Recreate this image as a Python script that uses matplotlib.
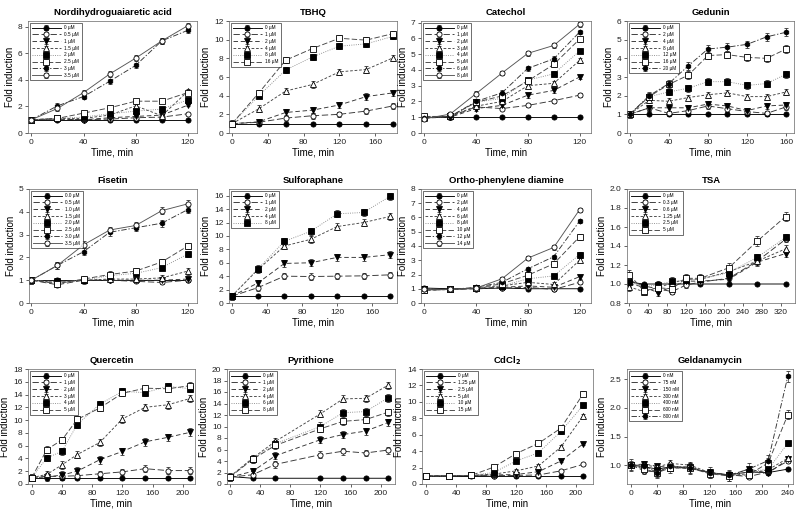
import matplotlib
matplotlib.use("Agg")
import matplotlib.pyplot as plt

plt.rcParams['font.family'] = ['Liberation Sans', 'DejaVu Sans']

# ---------------- data ----------------
ndga_t = [0, 20, 40, 60, 80, 100, 120]
ndga_lab = ['0 µM', '0.5 µM', '1 µM', '1.5 µM', '2 µM', '2.5 µM', '3 µM', '3.5 µM']
ndga_y = [[1, 1, 1, 1, 1, 1, 1],
          [1, 1.05, 1.0, 1.05, 1.15, 1.2, 1.45],
          [1, 1.05, 1.0, 1.15, 1.25, 1.35, 2.1],
          [1, 1.1, 1.1, 1.35, 2.05, 1.3, 3.15],
          [1, 1.1, 1.2, 1.45, 1.65, 1.8, 2.5],
          [1, 1.1, 1.5, 1.9, 2.4, 2.4, 3.05],
          [1, 2.05, 2.75, 3.9, 5.1, 6.95, 7.75],
          [1, 1.85, 3.05, 4.45, 5.65, 6.95, 8.1]]
ndga_e = [0.02, 0.05, 0.08, 0.15, 0.12, 0.1, 0.2, 0.2]

tbhq_t = [0, 30, 60, 90, 120, 150, 180]
tbhq_lab = ['0 µM', '1 µM', '2 µM', '4 µM', '8 µM', '16 µM']
tbhq_y = [[1, 1, 1, 1, 1, 1, 1],
          [1, 1.15, 1.6, 1.85, 2.0, 2.35, 2.9],
          [1, 1.2, 2.2, 2.45, 3.0, 3.9, 4.3],
          [1, 2.6, 4.5, 5.2, 6.55, 6.8, 8.05],
          [1, 4.0, 6.75, 8.15, 9.3, 9.55, 10.35],
          [1, 4.3, 7.8, 9.05, 10.15, 9.95, 10.65]]
tbhq_e = [0.05, 0.3, 0.35, 0.35, 0.3, 0.3]

cat_t = [0, 20, 40, 60, 80, 100, 120]
cat_lab = ['0 µM', '1 µM', '2 µM', '3 µM', '4 µM', '5 µM', '6 µM', '8 µM']
cat_y = [[1, 1, 1, 1, 1, 1, 1],
         [1.05, 1.05, 1.65, 1.55, 1.75, 2.05, 2.4],
         [0.95, 1.0, 1.55, 1.75, 2.4, 2.7, 3.55],
         [0.95, 1.05, 1.7, 2.0, 3.0, 3.15, 4.6],
         [1.0, 1.05, 1.95, 2.2, 3.35, 3.75, 5.2],
         [1.05, 1.05, 1.95, 2.35, 3.3, 4.35, 5.95],
         [0.95, 1.05, 2.0, 2.55, 4.1, 4.7, 6.4],
         [0.9, 1.2, 2.5, 3.8, 5.05, 5.55, 6.9]]
cat_e = [0.02, 0.12, 0.15, 0.15, 0.15, 0.15, 0.15, 0.15]

ged_t = [0, 20, 40, 60, 80, 100, 120, 140, 160]
ged_lab = ['0 µM', '2 µM', '4 µM', '8 µM', '12 µM', '16 µM', '20 µM']
ged_y = [[1, 1, 1, 1, 1, 1, 1, 1, 1],
         [1, 1.35, 1.05, 1.2, 1.45, 1.3, 1.15, 1.05, 1.4],
         [1, 1.35, 1.35, 1.35, 1.55, 1.45, 1.2, 1.45, 1.5],
         [1, 1.75, 1.7, 1.9, 2.05, 2.15, 1.95, 1.95, 2.2],
         [1, 1.95, 2.2, 2.4, 2.75, 2.75, 2.55, 2.65, 3.15],
         [1, 1.95, 2.6, 3.1, 4.15, 4.2, 4.05, 4.0, 4.5],
         [1, 2.0, 2.65, 3.6, 4.5, 4.6, 4.75, 5.15, 5.4]]
ged_e = [0.02, 0.15, 0.15, 0.15, 0.18, 0.2, 0.2]

fis_t = [0, 20, 40, 60, 80, 100, 120]
fis_lab = ['0.0 µM', '0.5 µM', '1.0 µM', '1.5 µM', '2.0 µM', '2.5 µM', '3.0 µM', '3.5 µM']
fis_y = [[1.0, 1.0, 1.0, 1.0, 1.0, 1.0, 1.0],
         [1.0, 0.8, 1.0, 1.0, 0.95, 0.9, 1.0],
         [1.0, 0.95, 1.0, 1.0, 1.0, 1.0, 1.05],
         [1.0, 0.9, 1.0, 1.05, 1.05, 1.1, 1.4],
         [1.0, 0.9, 1.0, 1.2, 1.3, 1.55, 2.15],
         [1.0, 0.85, 1.05, 1.25, 1.4, 1.8, 2.5],
         [1.0, 1.65, 2.25, 3.1, 3.3, 3.5, 4.1],
         [1.0, 1.65, 2.55, 3.2, 3.4, 4.05, 4.35]]
fis_e = [0.02, 0.08, 0.08, 0.15, 0.12, 0.15, 0.15, 0.15]

sul_t = [0, 30, 60, 90, 120, 150, 180]
sul_lab = ['0 µM', '1 µM', '2 µM', '4 µM', '8 µM']
sul_y = [[1, 1, 1, 1, 1, 1, 1],
         [1, 2.3, 4.0, 3.95, 4.0, 4.05, 4.2],
         [1, 3.0, 5.9, 6.0, 6.8, 6.8, 7.2],
         [1, 5.0, 8.5, 9.5, 11.4, 12.0, 12.9],
         [1, 5.1, 9.2, 10.7, 13.3, 13.5, 15.9]]
sul_e = [0.05, 0.45, 0.5, 0.5, 0.5]

opd_t = [0, 20, 40, 60, 80, 100, 120]
opd_lab = ['0 µM', '2 µM', '4 µM', '6 µM', '8 µM', '10 µM', '12 µM', '14 µM']
opd_y = [[1.05, 1, 1, 1.05, 1, 1, 1],
         [0.9, 0.95, 1.0, 1.05, 1.1, 0.95, 1.45],
         [0.95, 0.95, 1.05, 1.1, 1.2, 1.1, 1.85],
         [0.9, 0.95, 1.05, 1.2, 1.45, 1.3, 3.0],
         [0.95, 0.95, 1.05, 1.2, 1.7, 1.9, 3.4],
         [0.9, 0.95, 1.05, 1.35, 1.95, 2.75, 4.65],
         [1.0, 0.95, 1.1, 1.45, 2.4, 3.25, 5.75],
         [0.95, 0.95, 1.05, 1.7, 3.15, 3.9, 6.55]]
opd_e = [0.02, 0.1, 0.15, 0.15, 0.15, 0.2, 0.15, 0.15]

tsa_t = [0, 30, 60, 90, 120, 150, 210, 270, 330]
tsa_lab = ['0 µM', '0.3 µM', '0.6 µM', '1.25 µM', '2.5 µM', '5 µM']
tsa_y = [[1.02, 1.0, 1.0, 1.0, 1.0, 1.0, 1.0, 1.0, 1.0],
         [1.04, 0.98, 0.95, 0.92, 0.99, 1.02, 1.06, 1.24, 1.47],
         [1.0, 0.97, 0.91, 0.97, 1.03, 1.03, 1.05, 1.23, 1.32],
         [0.97, 0.92, 0.96, 1.01, 1.05, 1.05, 1.13, 1.24, 1.37],
         [1.02, 0.97, 0.99, 1.03, 1.04, 1.05, 1.12, 1.28, 1.49],
         [1.1, 0.93, 0.96, 0.95, 1.06, 1.06, 1.17, 1.45, 1.71]]
tsa_e = [0.005, 0.03, 0.04, 0.04, 0.04, 0.05]

que_t = [0, 20, 40, 60, 90, 120, 150, 180, 210]
que_lab = ['0 µM', '1 µM', '2 µM', '3 µM', '4 µM', '5 µM']
que_y = [[1, 1, 1, 1, 1, 1, 1, 1, 1],
         [1, 1.2, 1.2, 1.3, 1.6, 1.9, 2.4, 2.1, 2.1],
         [1, 1.1, 1.4, 2.0, 3.8, 5.1, 6.6, 7.3, 8.1],
         [1, 1.5, 3.0, 4.6, 6.5, 10.2, 12.0, 12.4, 13.4],
         [1, 4.1, 5.1, 9.3, 12.5, 14.5, 14.3, 15.3, 14.9],
         [1, 5.4, 6.9, 10.1, 11.9, 14.2, 15.0, 14.9, 15.4]]
que_e = [0.05, 0.5, 0.6, 0.6, 0.5, 0.5]

pyr_t = [0, 30, 60, 120, 150, 180, 210]
pyr_lab = ['0 µM', '1 µM', '2 µM', '4 µM', '6 µM', '8 µM']
pyr_y = [[1.3, 1, 1, 1, 1, 1, 1],
         [1.2, 1.6, 3.4, 5.1, 5.7, 5.4, 5.9],
         [1.2, 2.2, 4.9, 7.7, 8.6, 9.2, 10.7],
         [1.3, 4.5, 7.4, 12.2, 14.8, 14.9, 17.2],
         [1.3, 4.4, 7.0, 10.0, 12.4, 12.6, 15.0],
         [1.2, 4.3, 6.7, 9.6, 10.9, 11.2, 12.5]]
pyr_e = [0.05, 0.6, 0.6, 0.6, 0.7, 0.6]

cd_t = [0, 30, 60, 90, 120, 150, 180, 210]
cd_lab = ['0 µM', '1.25 µM', '2.5 µM', '5 µM', '10 µM', '15 µM']
cd_y = [[1, 1, 1, 1, 1, 1, 1, 1],
        [1, 1, 1.05, 1.0, 1.05, 1.1, 1.6, 2.4],
        [1, 1, 1.05, 1.1, 1.15, 1.5, 2.8, 4.9],
        [1, 1, 1.05, 1.2, 1.6, 2.2, 4.5, 8.3],
        [1, 1, 1.05, 1.4, 2.8, 3.8, 6.4, 9.6],
        [1, 1, 1.05, 2.05, 3.7, 4.95, 6.8, 11.0]]
cd_e = [0.02, 0.1, 0.15, 0.2, 0.3, 0.3]

gel_t = [0, 20, 40, 60, 90, 120, 150, 180, 210, 240]
gel_lab = ['0 nM', '75 nM', '150 nM', '300 nM', '400 nM', '600 nM', '800 nM']
gel_y = [[1.0, 0.97, 0.93, 0.97, 0.95, 0.87, 0.83, 0.88, 0.87, 0.93],
         [1.0, 0.9, 0.88, 0.97, 0.97, 0.86, 0.83, 0.80, 0.88, 1.07],
         [1.0, 1.02, 0.98, 0.96, 0.94, 0.88, 0.82, 0.93, 0.86, 1.10],
         [1.0, 1.0, 0.97, 1.03, 1.0, 0.87, 0.82, 0.85, 0.92, 1.12],
         [1.0, 0.96, 0.92, 0.95, 0.96, 0.86, 0.82, 0.88, 0.93, 1.38],
         [1.0, 0.93, 0.87, 0.95, 0.95, 0.85, 0.81, 0.83, 1.04, 1.88],
         [1.0, 0.98, 0.87, 0.99, 0.95, 0.87, 0.82, 0.93, 1.08, 2.55]]
gel_e = [0.02, 0.03, 0.03, 0.03, 0.04, 0.08, 0.1]

# ---------------- styles ----------------
STY = [
    dict(marker='o', mfc='black', ls='-', color='black'),
    dict(marker='o', mfc='white', ls=(0, (7, 3)), color='#333333'),
    dict(marker='v', mfc='black', ls=(0, (5, 3)), color='#333333'),
    dict(marker='^', mfc='white', ls=(0, (3, 2)), color='#444444'),
    dict(marker='s', mfc='black', ls=(0, (1, 1.5)), color='#888888'),
    dict(marker='s', mfc='white', ls=(0, (6, 2.5)), color='#444444'),
    dict(marker='h', mfc='black', ls=(0, (6, 2, 1.5, 2)), color='#333333'),
    dict(marker='o', mfc='white', ls='-', color='#555555'),
]

W, H = 800, 517
fig = plt.figure(figsize=(W / 100, H / 100), dpi=100)


def px_axes(l, r, t, b):
    return fig.add_axes([l / W, 1 - b / H, (r - l) / W, (b - t) / H])


def panel(box, title, t, ys, labels, errs, xlim, ylim, xticks, yticks, yfmt=None):
    ax = px_axes(*box)
    for i, (y, lab) in enumerate(zip(ys, labels)):
        s = STY[i]
        ax.errorbar(t, y, yerr=[errs[i]] * len(y), marker=s['marker'],
                    mfc=s['mfc'], mec='black', ms=3.7, mew=0.6,
                    ls=s['ls'], color=s['color'], lw=0.65, ecolor='#333333',
                    elinewidth=0.5, capsize=1.5, capthick=0.5, label=lab)
    ax.set_xlim(*xlim)
    ax.set_ylim(*ylim)
    ax.set_xticks(xticks)
    ax.set_yticks(yticks)
    if yfmt:
        ax.set_yticklabels([yfmt.format(v) for v in yticks])
    ax.tick_params(labelsize=6, length=2.5, width=0.5, pad=1.5, colors='#222222')
    for sp in ax.spines.values():
        sp.set_linewidth(0.5)
        sp.set_color('#666666')
    ax.set_title(title, fontsize=6.8, fontweight='bold', pad=4)
    ax.set_xlabel('Time, min', fontsize=7, labelpad=1.5)
    ax.set_ylabel('Fold induction', fontsize=7, labelpad=2)
    leg = ax.legend(loc='upper left', fontsize=3.4, handlelength=6, handletextpad=0.8,
                    borderpad=0.5, labelspacing=0.38, frameon=True, fancybox=False,
                    borderaxespad=0.4)
    leg.get_frame().set_edgecolor('black')
    leg.get_frame().set_linewidth(0.5)
    return ax


r1 = (21, 133)
r2 = (189, 303)
r3 = (369, 484)

panel((28, 197) + r1, 'Nordihydroguaiaretic acid', ndga_t, ndga_y, ndga_lab, ndga_e,
      (-2.6, 127), (0, 8.45), [0, 40, 80, 120], [0, 2, 4, 6, 8])
panel((229, 397) + r1, 'TBHQ', tbhq_t, tbhq_y, tbhq_lab, tbhq_e,
      (-3.4, 184.5), (0, 12), [0, 40, 80, 120, 160], [0, 2, 4, 6, 8, 10, 12])
panel((421, 591) + r1, 'Catechol', cat_t, cat_y, cat_lab, cat_e,
      (-2.6, 128.8), (0, 7.1), [0, 40, 80, 120], [0, 1, 2, 3, 4, 5, 6, 7])
panel((627, 794) + r1, 'Gedunin', ged_t, ged_y, ged_lab, ged_e,
      (-2.7, 168), (0, 6), [0, 40, 80, 120, 160], [0, 1, 2, 3, 4, 5, 6])

panel((29, 197) + r2, 'Fisetin', fis_t, fis_y, fis_lab, fis_e,
      (-1.8, 127), (0, 5), [0, 40, 80, 120], [0, 1, 2, 3, 4, 5])
panel((229, 397) + r2, 'Sulforaphane', sul_t, sul_y, sul_lab, sul_e,
      (-3, 188), (0, 17), [0, 40, 80, 120, 160], [0, 2, 4, 6, 8, 10, 12, 14, 16])
panel((421, 591) + r2, 'Ortho-phenylene diamine', opd_t, opd_y, opd_lab, opd_e,
      (-2.6, 128.8), (0, 8), [0, 40, 80, 120], [0, 1, 2, 3, 4, 5, 6, 7, 8])
panel((627, 795) + r2, 'TSA', tsa_t, tsa_y, tsa_lab, tsa_e,
      (-5, 350), (0.8, 2.0), [0, 40, 80, 120, 160, 200, 240, 280, 320],
      [0.8, 1.0, 1.2, 1.4, 1.6, 1.8, 2.0], yfmt='{:.1f}')

panel((28, 195) + r3, 'Quercetin', que_t, que_y, que_lab, que_e,
      (-5, 216), (0, 18), [0, 40, 80, 120, 160, 200], [0, 2, 4, 6, 8, 10, 12, 14, 16, 18])
panel((227, 395) + r3, 'Pyrithione', pyr_t, pyr_y, pyr_lab, pyr_e,
      (-4, 219), (0, 20), [0, 40, 80, 120, 160, 200], [0, 2, 4, 6, 8, 10, 12, 14, 16, 18, 20])
panel((422, 593) + r3, 'CdCl$_\\mathbf{2}$', cd_t, cd_y, cd_lab, cd_e,
      (-6, 223), (0, 14), [0, 40, 80, 120, 160, 200], [0, 2, 4, 6, 8, 10, 12, 14])
panel((627, 793) + r3, 'Geldanamycin', gel_t, gel_y, gel_lab, gel_e,
      (-6.6, 248), (0.67, 2.68), [0, 40, 80, 120, 160, 200, 240],
      [1.0, 1.5, 2.0, 2.5], yfmt='{:.1f}')

fig.savefig('out.png', dpi=100)
